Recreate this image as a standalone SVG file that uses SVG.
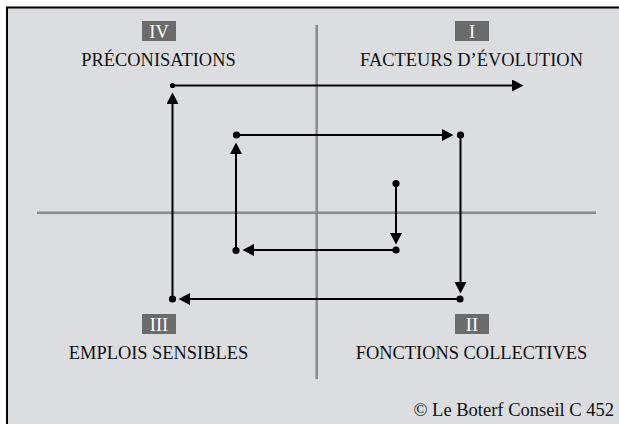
<svg xmlns="http://www.w3.org/2000/svg" width="619" height="424" viewBox="0 0 619 424">
  <style>
    .label { font-family: "Liberation Serif", "Times New Roman", serif; font-size: 18.4px; fill: #111; text-anchor: middle; }
    .num-box { fill: #6b6b6b; }
    .num { font-family: "Liberation Serif", "Times New Roman", serif; font-size: 18.5px; fill: #ffffff; text-anchor: middle; }
    .axis { stroke: #8a8a8a; stroke-width: 2.5; fill: none; }
    .flow { stroke: #000; stroke-width: 2; fill: none; marker-end: url(#arrow); }
    .dot { fill: #000; }
    .credit { font-family: "Liberation Serif", "Times New Roman", serif; font-size: 18.5px; fill: #111; text-anchor: end; }
  </style>
  <defs>
    <marker id="arrow" markerUnits="userSpaceOnUse" markerWidth="12" markerHeight="13" refX="7" refY="6" orient="auto">
      <path d="M0,0 L11.5,6 L0,12 Z" fill="#000"/>
    </marker>
  </defs>

  <!-- panel -->
  <rect x="7" y="7.5" width="640" height="440" fill="#dcdde0" stroke="#000" stroke-width="2"/>

  <!-- quadrant axes -->
  <g id="axes">
    <line class="axis" x1="316.7" y1="25" x2="316.7" y2="379"/>
    <line class="axis" x1="37" y1="212.7" x2="596" y2="212.7"/>
  </g>

  <!-- quadrant labels -->
  <g id="q4">
    <rect class="num-box" x="142" y="21" width="34" height="20"/>
    <text class="num" x="159" y="38">IV</text>
    <text class="label" x="158.5" y="66">PRÉCONISATIONS</text>
  </g>
  <g id="q1">
    <rect class="num-box" x="455" y="21" width="34" height="20"/>
    <text class="num" x="472" y="38">I</text>
    <text class="label" x="471.5" y="66">FACTEURS D’ÉVOLUTION</text>
  </g>
  <g id="q3">
    <rect class="num-box" x="142" y="314" width="34" height="20"/>
    <text class="num" x="159" y="331">III</text>
    <text class="label" x="158.5" y="358.5">EMPLOIS SENSIBLES</text>
  </g>
  <g id="q2">
    <rect class="num-box" x="455" y="314" width="34" height="20"/>
    <text class="num" x="472" y="331">II</text>
    <text class="label" x="471.5" y="358.5">FONCTIONS COLLECTIVES</text>
  </g>

  <!-- spiral path -->
  <g id="connectors">
    <line class="flow" x1="396" y1="183.5" x2="396" y2="240"/>
    <line class="flow" x1="396" y1="250" x2="247" y2="250"/>
    <line class="flow" x1="236" y1="250" x2="236" y2="147"/>
    <line class="flow" x1="236" y1="135" x2="449" y2="135"/>
    <line class="flow" x1="460.5" y1="135" x2="460.5" y2="289"/>
    <line class="flow" x1="460.5" y1="299" x2="183" y2="299"/>
    <line class="flow" x1="172.5" y1="299" x2="172.5" y2="97"/>
    <line class="flow" x1="172.5" y1="85.5" x2="519" y2="85.5"/>
  </g>
  <g id="points">
    <circle class="dot" cx="396" cy="183.5" r="3.6"/>
    <circle class="dot" cx="396" cy="250" r="3.6"/>
    <circle class="dot" cx="236" cy="250.5" r="3.6"/>
    <circle class="dot" cx="236.5" cy="135" r="3.6"/>
    <circle class="dot" cx="460.5" cy="135" r="3.6"/>
    <circle class="dot" cx="460" cy="299" r="3.6"/>
    <circle class="dot" cx="172.5" cy="299" r="3.6"/>
    <circle class="dot" cx="172.5" cy="85.5" r="2.6"/>
  </g>

  <text class="credit" x="614" y="416">© Le Boterf Conseil C 452</text>
</svg>
